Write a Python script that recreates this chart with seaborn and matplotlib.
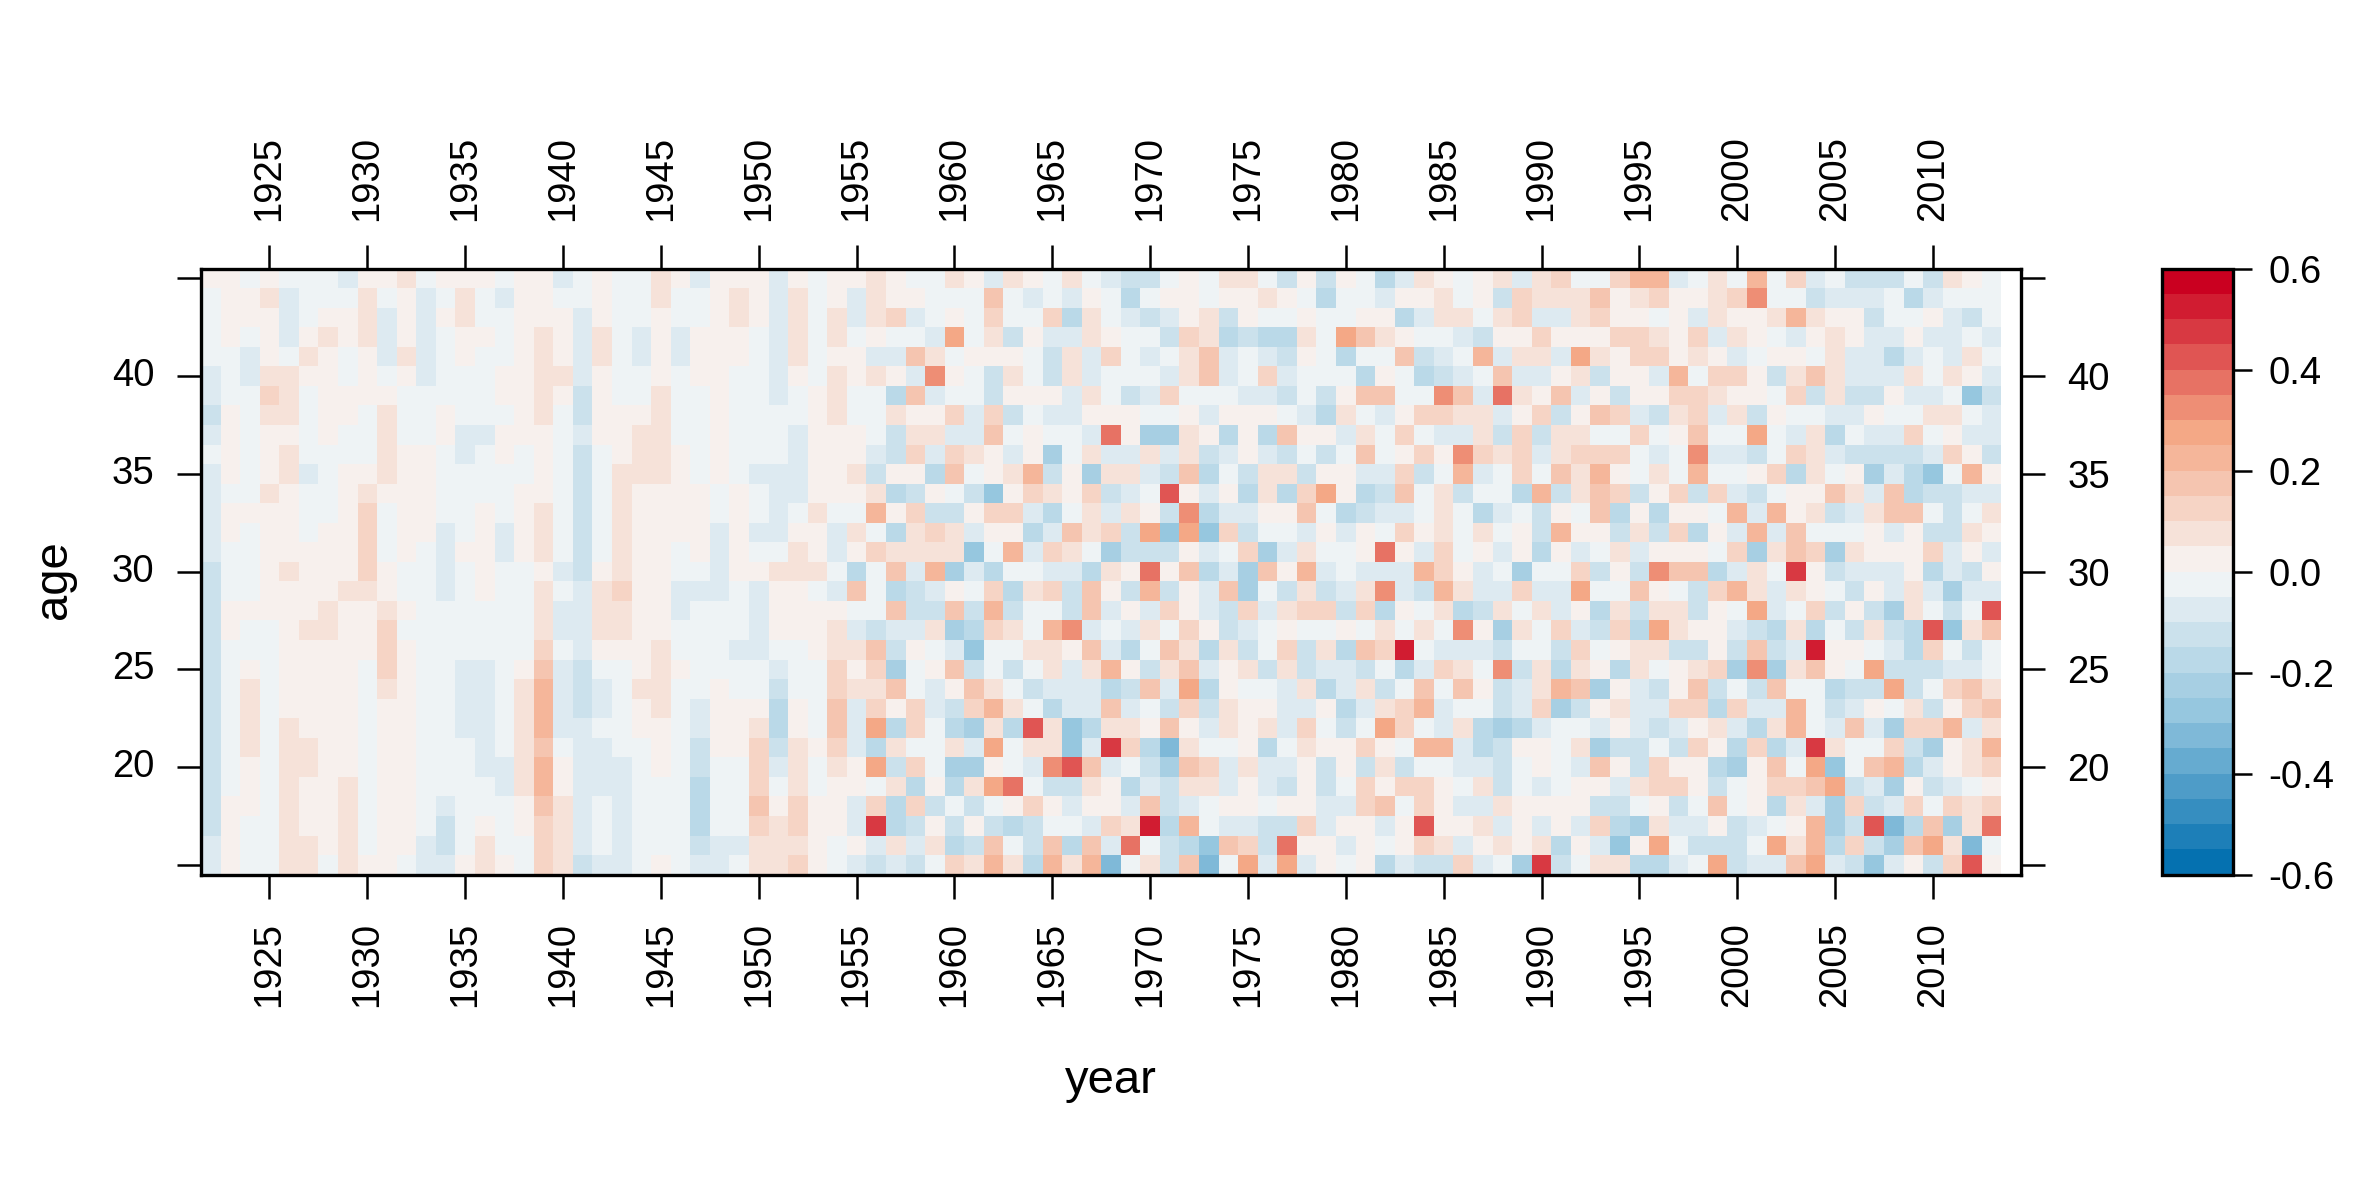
import numpy as np
import pandas as pd
import seaborn as sns
import matplotlib
matplotlib.use("Agg")
import matplotlib.pyplot as plt
from matplotlib.colors import ListedColormap, LinearSegmentedColormap

years = list(range(1922, 2015))   # 2014 has no data
ages = list(range(45, 14, -1))

# residual level per year 1922-2013, one char per cell, rows from age 45 down to 15
# '0'..'9','A','B' -> bins 0.00..0.60, 'a'..'l' -> bins 0.00..-0.60 (0.05 wide)
resid_rows = [
    "00a0aaab001a000a00ba0aa" "10b000b0a0010aa10b10a1a" "bcca0a11ac0c0adb10a01b1" "2aa244ba1a4a2bacccac10a",
    "a001baaa1a0ba1ab00aa0aa" "1aa010b1a0b100aaa3abab0" "ada00a0010adaab001a0c21" "11301200126aacbbbadbaaa",
    "a000ba001b0b01aa000b0aa" "0aa010b1a1b12ba0a2aa2d1" "abcb01c0aa0aa00db11a12b" "b1200a0b10014100caa0bca",
    "a0a0b0101b0ba00a010b1ab" "0b000ab1a1a0aab5a1c0bb1" "0aac21dcdd1a5310aabc002" "00022102b10ab010bb0bbab",
    "aab0a10a0b1ba0aa010b1ab" "0b000ab1a00bb31a000ac1b" "2aba13babc0adaa3cba4b11" "b51022010ba00a1bbdbab1a",
    "bab1100a0a0baaa0011b0aa" "0a00aab0a1010b60ac1ac1b" "aaab13ba2baaad0adcba3bb" "01c00b4a220c131bbb1a10b",
    "baa21a0000aaaaa0010c0aa" "1aa0aaba01aad3baac000b1" "acb2aaabbcac033aa63b710" "3b0c0022100a2c1cc0bbafc",
    "c0a11a00a1aa0aaa01ac000" "1aa0aaaa01aa1002b2cabb0" "00aa0b000abd1ab02211b02" "c032bc12b1c0aabb0aa11ab",
    "b0a00a0aa1aa0bb000ab001" "1aa0aaab000ac11bb3a0aab" "70ee10d0d300b1a2abb1c2c" "11aa2a03aa5ab1dabb2a0bb",
    "a0a01aaaa100aba0a0aca01" "10a0aaab000bc2b210b0ea1" "bb1b1cb0bcaca3a0206212b" "1222aba6bbca21bccccb20c",
    "b0a01ba00100aaaaa0aca11" "10a0abbb001c00d3a014c0e" "11bc3dac11c00bb2ca4ba2a" "3140a1a4aa02d1a0ebdfa40",
    "baa10aa01000aaaa00aca10" "000a0abb0001dc0acf02102" "cba80b0d1d250dc3a1caad4" "c132c02c2bca0031b3dccbb",
    "b0000aa02a00aa0a01aca10" "000a0aba1aa402cc022bda1" "b10c6dbb003adcbba1adbac" "0a3d0d00a4b401cb133aca1",
    "b0a00a002a00ba0b01aca10" "000b0bb00b1ad121b00db31" "2c5f5f2caab0b0a201a1a0c" "400c1c2d0b4b3aaa0b0cc10",
    "baa000002a0ab00b01aca10" "0a0b0aa10b021111fa4b21a" "eccc0ba2eb1aa070b2a0b0d" "0ba1b000a2e132e10002b0b",
    "caa0100020aaba0aa0bc010" "0aab00111ada3b4ebdaabbd" "10703dbe304babbb420baea" "a2c0c633db1a90cbbb0dbc0",
    "caa0000110aaba0aa1ab120" "0bbbab00ab3adcb0a2d12c3" "0c4c0b3eac1cb16bc41bb2b" "b5aa30ac241b10ac0b1bebb",
    "c0000010010aaaaaa1bb110" "0baaab0000aa3cc3c4caac3" "b0b20bc2b122c2d0a1dc1a1" "b0d1c11c0a5ba2c0ce1aca8",
    "c0aa011002aaaaaaa1bb110" "0aaaab0001bcbb1ed21a46b" "ab1a20cba0aa0a1a1a60e1a" "2bc2d5100bcd1dac1cd8f13",
    "caaa0000020aaaaaa2ab000" "1aaabbaa0113c0abfaa1103" "bda31d1ca2c1d32Aabbbcaa" "c2a011cc0c3cbA00abd2aca",
    "ca0a0000a20aabba03bcaa0" "10aaaabaa202ea03caca1b1" "40c13b01c1cbbcadb21a6c1" "d10d1a012e6e130a5cccbba",
    "ca1a0000a10aabba14bcba1" "1aa0aacaa2113ab031acbbb" "dc3b5d0aab1db1ca3a30cb1" "43e0bc03cac3aadcc5ca231",
    "ca1a0000a00aabba14bcba0" "1ab000d0a3b202bc241adbb" "3bac2c100bb0db124baacb2" "ec01bb22d2bb4acb0a1c023",
    "ca1a1000a00aabba14bbaa0" "0ab001d0a3b5d2ade1d81fd" "11030b101b2aca52ab1dedb" "aab0bcb01bd14ab3be224b1",
    "ca1a1100a00aaaba13abbaa" "0ac002c102bd1aa1b5a11fb" "92dg1aa0da10020a44bdc00" "a1eccac20d2db91aa2ce014",
    "ca0a1100a00aaabb140bbba" "0acaa2b1a105c2aee0ab683" "bace32b1bb0c0c1caabbca0" "ab30c200de03a5fa34db012",
    "ca0a1001a00aaaab140bbba" "aadaa2a1a00a1d0d157acc1" "0dbc11b0bc0ca20220a1cab" "a00b1220ca02235cbe0cba0",
    "c00a1001a00abaaa031baba" "aadaa30200b2d2caca020b0" "0b3cba00a00bb23a20bb100" "00cca0ca3a0d1be2cb2a212",
    "c0aa1001a00aca0a021baba" "aadaa21200b9dc0c0cdcaab" "21Ad4abbcc2b00b08001b0b" "0b2de1bb0cba04ec8gd3e17",
    "b0aa1101a00bca1aa21baba" "aacbb1110a0b1b1dc3ac3d3" "b7acdf32c700b0a021b0101" "d0bf05accca514d2ce351ga",
    "b0aa11a100abb010a21cbba" "0abba1120abcbca2141d414" "ga1c3ga5b5b0a0dbcc2bae9" "ca11ddba5cbb35bcfb0c280",
]

pos_codes = "0123456789AB"
neg_codes = "abcdefghijkl"


def code_value(ch):
    if ch in pos_codes:
        lev = 12 + pos_codes.index(ch)
    else:
        lev = 11 - neg_codes.index(ch)
    return -0.6 + 0.05 * lev + 0.025


vals = []
for r in resid_rows:
    row = [code_value(c) for c in r]
    row += [np.nan] * (len(years) - len(row))
    vals.append(row)
resid = pd.DataFrame(vals, index=ages, columns=years)

ramp = LinearSegmentedColormap.from_list(
    "rdbu5", ["#0571B0", "#92C5DE", "#F7F7F7", "#F4A582", "#CA0020"])
cmap = ListedColormap([ramp(i / 23) for i in range(24)])

sns.set_style("white")
plt.rcParams["font.family"] = ["Liberation Sans", "DejaVu Sans"]
plt.rcParams["axes.unicode_minus"] = False
plt.rcParams["text.color"] = "black"

W, H = 2362, 1181
fig = plt.figure(figsize=(W / 100, H / 100), dpi=100)
ax = fig.add_axes([201 / W, 1 - 874.6 / H, 1820 / W, 606 / H])
cax = fig.add_axes([2162 / W, 1 - 874.6 / H, 71 / W, 606 / H])

sns.heatmap(resid, ax=ax, cmap=cmap, vmin=-0.6, vmax=0.6, cbar_ax=cax,
            linewidths=0, rasterized=True)
ax.set_facecolor("white")

xt = list(range(1925, 2011, 5))
ax.set_xticks([y - years[0] + 0.5 for y in xt])
ax.set_xticklabels([str(y) for y in xt], rotation=90)
yt = list(range(15, 46, 5))
ax.set_yticks([ages[0] - a + 0.5 for a in yt])
ax.set_yticklabels(["" if a in (15, 45) else str(a) for a in yt], rotation=0)
ax.set_xlabel("")
ax.set_ylabel("")
ax.tick_params(axis="both", direction="out", length=17, width=1.8,
               labelsize=27.5, color="black", labelcolor="black")
ax.tick_params(axis="x", top=True, labeltop=True, bottom=True,
               labelbottom=True, pad=17)
ax.tick_params(axis="y", left=True, right=True, labelleft=True,
               labelright=True, pad=16.5)
for s in ax.spines.values():
    s.set_visible(True)
    s.set_color("black")
    s.set_linewidth(2.4)

cb = ax.collections[0].colorbar
cb.set_ticks([-0.6, -0.4, -0.2, 0.0, 0.2, 0.4, 0.6])
cb.set_ticklabels(["-0.6", "-0.4", "-0.2", "0.0", "0.2", "0.4", "0.6"])
cb.outline.set_edgecolor("black")
cb.outline.set_linewidth(2.4)
cax.tick_params(direction="out", length=13.5, width=1.8, labelsize=27.5,
                pad=12, color="black", labelcolor="black")

fig.text(1111 / W, 1 - 1081 / H, "year", ha="center", va="center",
         fontsize=34, color="black")
fig.text(54 / W, 1 - 580 / H, "age", ha="center", va="center",
         rotation=90, fontsize=34, color="black")

fig.savefig("out.png", dpi=100, facecolor="white")
